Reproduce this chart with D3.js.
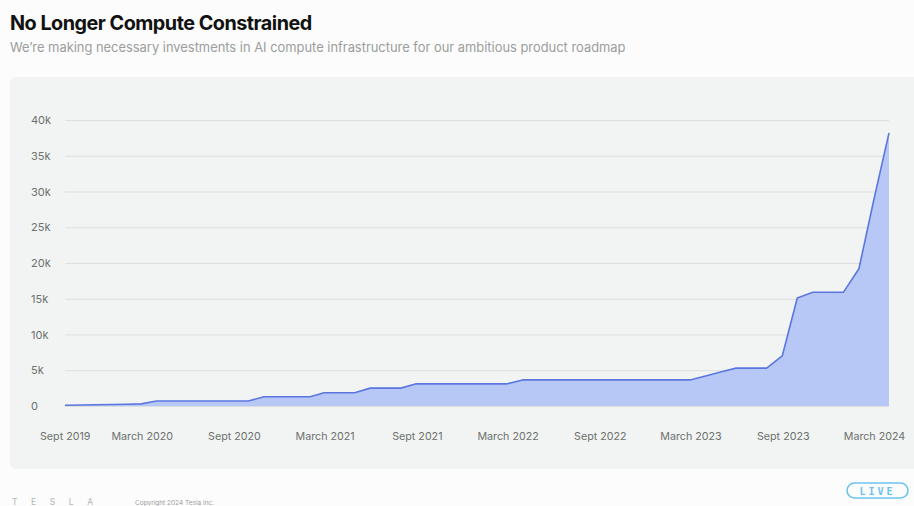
<!DOCTYPE html>
<html>
<head>
<meta charset="utf-8">
<script src="https://cdn.jsdelivr.net/npm/d3@7"></script>
<style>
  html, body { margin: 0; padding: 0; background: #fbfcfb; }
  svg { display: block; font-family: Inter, "Liberation Sans", Arial, sans-serif; }
</style>
</head>
<body>
<svg id="chart" width="914" height="506"></svg>
<script>
// Monthly AI training compute (thousands of H100 equivalents), Sept 2019 – March 2024
const months = [
  "2019-09","2019-10","2019-11","2019-12","2020-01","2020-02","2020-03","2020-04",
  "2020-05","2020-06","2020-07","2020-08","2020-09","2020-10","2020-11","2020-12",
  "2021-01","2021-02","2021-03","2021-04","2021-05","2021-06","2021-07","2021-08",
  "2021-09","2021-10","2021-11","2021-12","2022-01","2022-02","2022-03","2022-04",
  "2022-05","2022-06","2022-07","2022-08","2022-09","2022-10","2022-11","2022-12",
  "2023-01","2023-02","2023-03","2023-04","2023-05","2023-06","2023-07","2023-08",
  "2023-09","2023-10","2023-11","2023-12","2024-01","2024-02","2024-03"
];
const compute = [
  0.1, 0.13, 0.17, 0.2, 0.25, 0.3, 0.7, 0.7,
  0.7, 0.7, 0.7, 0.7, 0.7, 1.3, 1.3, 1.3,
  1.3, 1.85, 1.85, 1.85, 2.5, 2.5, 2.5, 3.1,
  3.1, 3.1, 3.1, 3.1, 3.1, 3.1, 3.65, 3.65,
  3.65, 3.65, 3.65, 3.65, 3.65, 3.65, 3.65, 3.65,
  3.65, 3.65, 4.2, 4.75, 5.3, 5.3, 5.3, 7.0,
  15.1, 15.9, 15.9, 15.9, 19.2, 28.6, 38.2
];
const xTickMonths = ["2019-09","2020-03","2020-09","2021-03","2021-09","2022-03","2022-09","2023-03","2023-09","2024-03"];
const xTickLabels = ["Sept 2019","March 2020","Sept 2020","March 2021","Sept 2021","March 2022","Sept 2022","March 2023","Sept 2023","March 2024"];
const yTicks = [0, 5, 10, 15, 20, 25, 30, 35, 40];
const yTickLabels = ["0","5k","10k","15k","20k","25k","30k","35k","40k"];

const parseMonth = d3.timeParse("%Y-%m");
// each reading is taken at the end of its month
const monthEnd = m => d3.timeDay.offset(d3.timeMonth.offset(parseMonth(m), 1), -1);
const data = months.map((m, i) => ({ date: monthEnd(m), value: compute[i] }));

const svg = d3.select("#chart");
const labelFont = "Inter, 'Liberation Sans', Arial, sans-serif";

// titles
svg.append("text").attr("x", 10).attr("y", 30)
  .attr("font-size", 19.8).attr("font-weight", 700).attr("fill", "#111")
  .attr("letter-spacing", -0.5)
  .text("No Longer Compute Constrained");
svg.append("text").attr("x", 10).attr("y", 51.5)
  .attr("font-size", 12.9).attr("fill", "#9c9e9d")
  .text("We\u2019re making necessary investments in AI compute infrastructure for our ambitious product roadmap");

// chart panel
svg.append("rect").attr("x", 10).attr("y", 77).attr("width", 930).attr("height", 392)
  .attr("rx", 6).attr("fill", "#f1f4f2");

const x = d3.scaleTime()
  .domain([data[0].date, data[data.length - 1].date])
  .range([65, 889]);
const y = d3.scaleLinear().domain([0, 40]).range([406, 120]);

// gridlines + y labels
const yAxis = d3.axisLeft(y).tickValues(yTicks)
  .tickSize(-(x.range()[1] - x.range()[0]))
  .tickFormat((d, i) => yTickLabels[i]);
const gy = svg.append("g").attr("transform", `translate(${x.range()[0]},0)`).call(yAxis);
gy.select(".domain").remove();
gy.selectAll(".tick line").attr("stroke", "#dcdfdd").attr("stroke-width", 1);
gy.selectAll(".tick text")
  .attr("x", 31 - x.range()[0]).attr("text-anchor", "start")
  .attr("font-size", 11).attr("fill", "#6e706f")
  .attr("font-family", labelFont);

// area + line
const area = d3.area().x(d => x(d.date)).y0(y(0)).y1(d => y(d.value));
const line = d3.line().x(d => x(d.date)).y(d => y(d.value));
svg.append("path").datum(data).attr("d", area).attr("fill", "#b8c8f6");
svg.append("path").datum(data).attr("d", line)
  .attr("fill", "none").attr("stroke", "#5b77df").attr("stroke-width", 1.6)
  .attr("stroke-linejoin", "round");

// x axis labels
const xAxis = d3.axisBottom(x)
  .tickValues(xTickMonths.map(parseMonth))
  .tickSize(0).tickPadding(0)
  .tickFormat((d, i) => xTickLabels[i]);
const gx = svg.append("g").attr("transform", "translate(0,440)").call(xAxis);
gx.select(".domain").remove();
gx.selectAll(".tick text")
  .attr("dy", 0).attr("font-size", 10.7).attr("fill", "#6e706f")
  .attr("font-family", labelFont);
// keep labels inside the panel padding
gx.selectAll(".tick").each(function () {
  const t = d3.select(this);
  const tx = +t.attr("transform").match(/translate\(([-\d.]+)/)[1];
  const bb = this.querySelector("text").getBBox();
  const left = tx + bb.x;
  if (left < 40) t.select("text").attr("x", 40 - left);
});

// footer
svg.append("text").attr("x", 12).attr("y", 505)
  .attr("font-size", 8.5).attr("fill", "#b4b6b5").attr("letter-spacing", 13.6)
  .text("TESLA");
svg.append("text").attr("x", 135).attr("y", 505)
  .attr("font-size", 6.5).attr("fill", "#9c9e9d")
  .text("Copyright 2024 Tesla Inc.");

// LIVE badge
svg.append("rect").attr("x", 847).attr("y", 483).attr("width", 61).attr("height", 15)
  .attr("rx", 7.5).attr("fill", "none").attr("stroke", "#6cc3ef").attr("stroke-width", 1.6);
svg.append("text").attr("x", 877.5).attr("y", 494.5).attr("text-anchor", "middle")
  .attr("font-size", 10).attr("font-weight", 700).attr("fill", "#6cc3ef")
  .attr("letter-spacing", 3).attr("font-family", "'DejaVu Sans Mono', monospace")
  .text("LIVE");
</script>
</body>
</html>
